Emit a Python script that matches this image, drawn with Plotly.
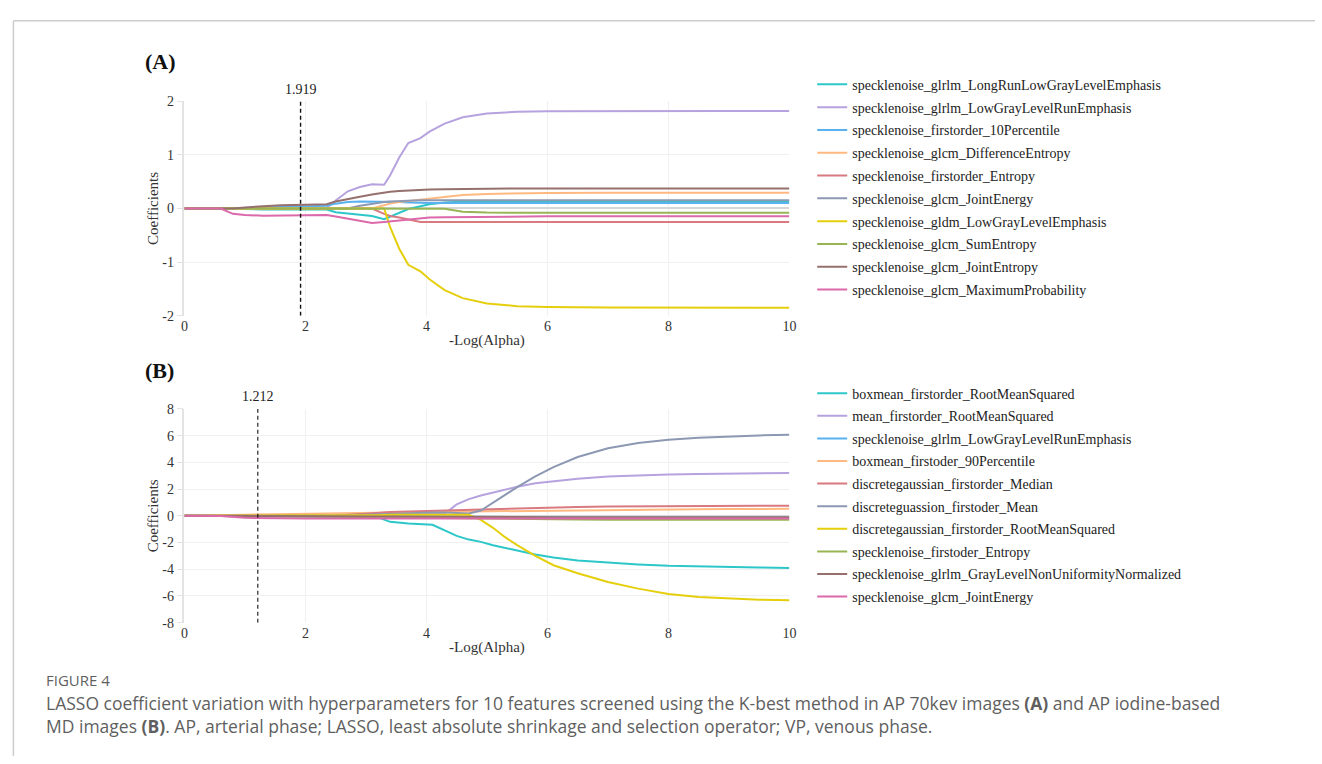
import plotly.graph_objects as go

W, H = 1322, 764

# ---------------- Panel A data ----------------
xa = [0, 0.6, 0.8, 1.0, 1.3, 1.6, 2.0, 2.35, 2.5, 2.7, 2.9, 3.1, 3.3, 3.4, 3.55,
      3.7, 3.9, 4.05, 4.3, 4.6, 5.0, 5.5, 6.0, 7.0, 8.0, 9.0, 10.0]

names_a = [
    "specklenoise_glrlm_LongRunLowGrayLevelEmphasis",
    "specklenoise_glrlm_LowGrayLevelRunEmphasis",
    "specklenoise_firstorder_10Percentile",
    "specklenoise_glcm_DifferenceEntropy",
    "specklenoise_firstorder_Entropy",
    "specklenoise_glcm_JointEnergy",
    "specklenoise_gldm_LowGrayLevelEmphasis",
    "specklenoise_glcm_SumEntropy",
    "specklenoise_glcm_JointEntropy",
    "specklenoise_glcm_MaximumProbability",
]

a_long_run_low = [0, 0, 0, -0.01, -0.02, -0.02, -0.02, -0.02, -0.07, -0.09, -0.11, -0.14, -0.2, -0.15, -0.07,
                  -0.01, 0.04, 0.08, 0.11, 0.13, 0.14, 0.14, 0.14, 0.14, 0.14, 0.14, 0.14]
a_low_gray_run = [0, 0, 0, 0, 0, 0, 0, 0.01, 0.15, 0.32, 0.40, 0.45, 0.44, 0.62, 0.95,
                  1.22, 1.31, 1.43, 1.58, 1.70, 1.77, 1.80, 1.81, 1.815, 1.815, 1.815, 1.815]
a_10pct = [0, 0, 0, 0.01, 0.02, 0.03, 0.04, 0.05, 0.09, 0.12, 0.13, 0.13, 0.13, 0.13, 0.12,
           0.11, 0.10, 0.10, 0.10, 0.10, 0.10, 0.10, 0.10, 0.10, 0.10, 0.10, 0.10]
a_diff_entropy = [0, 0, 0, 0, 0, 0, 0, 0, 0, 0, 0, 0, 0.06, 0.09, 0.12,
                  0.14, 0.17, 0.19, 0.22, 0.25, 0.27, 0.285, 0.29, 0.295, 0.295, 0.295, 0.295]
a_entropy = [0, 0, 0, 0, 0, 0, 0, 0, 0, 0, 0, 0, -0.10, -0.14, -0.17,
             -0.20, -0.25, -0.25, -0.25, -0.25, -0.25, -0.25, -0.25, -0.25, -0.25, -0.25, -0.25]
a_joint_energy = [0, 0, 0, 0, 0, 0, 0, 0, 0, 0, 0.05, 0.09, 0.12, 0.13, 0.14,
                  0.15, 0.155, 0.155, 0.155, 0.155, 0.155, 0.155, 0.155, 0.155, 0.155, 0.155, 0.155]
a_low_gray_emph = [0, 0, 0, 0, 0, 0, 0, 0, 0, 0, 0, 0, 0, -0.35, -0.75,
                   -1.05, -1.17, -1.32, -1.52, -1.67, -1.77, -1.82, -1.835, -1.845, -1.85, -1.85, -1.85]
a_sum_entropy = [0, 0, 0, 0, 0, 0, 0, 0, 0, 0, 0, 0, 0, 0, 0,
                 0, 0, 0, -0.005, -0.06, -0.075, -0.08, -0.08, -0.08, -0.08, -0.08, -0.08]
a_joint_entropy = [0, 0, 0, 0.02, 0.04, 0.06, 0.07, 0.08, 0.13, 0.18, 0.22, 0.26, 0.30, 0.31, 0.325,
                   0.335, 0.35, 0.355, 0.36, 0.365, 0.37, 0.372, 0.374, 0.374, 0.374, 0.374, 0.374]
a_max_prob = [0, 0, -0.10, -0.12, -0.135, -0.13, -0.125, -0.12, -0.15, -0.19, -0.23, -0.27, -0.25, -0.24, -0.22,
              -0.20, -0.18, -0.17, -0.165, -0.16, -0.155, -0.15, -0.145, -0.143, -0.143, -0.143, -0.143]

series_a = [a_long_run_low, a_low_gray_run, a_10pct, a_diff_entropy, a_entropy,
            a_joint_energy, a_low_gray_emph, a_sum_entropy, a_joint_entropy, a_max_prob]

# ---------------- Panel B data ----------------
xb = [0, 0.6, 1.0, 1.5, 2.0, 2.5, 3.0, 3.2, 3.4, 3.7, 4.1, 4.3, 4.5, 4.7, 4.9, 5.1,
      5.3, 5.5, 5.8, 6.1, 6.5, 7.0, 7.5, 8.0, 8.5, 9.0, 9.5, 10.0]

names_b = [
    "boxmean_firstorder_RootMeanSquared",
    "mean_firstorder_RootMeanSquared",
    "specklenoise_glrlm_LowGrayLevelRunEmphasis",
    "boxmean_firstoder_90Percentile",
    "discretegaussian_firstorder_Median",
    "discreteguassion_firstoder_Mean",
    "discretegaussian_firstorder_RootMeanSquared",
    "specklenoise_firstoder_Entropy",
    "specklenoise_glrlm_GrayLevelNonUniformityNormalized",
    "specklenoise_glcm_JointEnergy",
]

b_boxmean_rms = [0, 0, -0.02, -0.03, -0.04, -0.05, -0.08, -0.12, -0.45, -0.58, -0.67, -1.1, -1.5, -1.78, -1.95, -2.2,
                 -2.38, -2.6, -2.9, -3.12, -3.35, -3.52, -3.64, -3.74, -3.8, -3.84, -3.87, -3.9]
b_mean_rms = [0, 0, 0, 0, 0, 0, 0.02, 0.04, 0.06, 0.08, 0.10, 0.15, 0.85, 1.25, 1.52, 1.75,
              1.98, 2.17, 2.43, 2.60, 2.78, 2.94, 3.03, 3.09, 3.13, 3.16, 3.19, 3.21]
b_low_gray_run = [0, 0, -0.02, -0.03, -0.04, -0.05, -0.05, -0.06, -0.06, -0.07, -0.08, -0.08, -0.09, -0.09, -0.1, -0.1,
                  -0.1, -0.11, -0.11, -0.11, -0.12, -0.12, -0.12, -0.12, -0.12, -0.12, -0.12, -0.12]
b_boxmean_p90 = [0, 0.02, 0.08, 0.12, 0.14, 0.16, 0.19, 0.21, 0.23, 0.26, 0.29, 0.30, 0.31, 0.32, 0.33, 0.34,
                 0.36, 0.38, 0.40, 0.42, 0.44, 0.46, 0.48, 0.49, 0.50, 0.51, 0.52, 0.52]
b_dg_median = [0, 0, 0, 0, 0, 0.03, 0.15, 0.22, 0.28, 0.33, 0.38, 0.40, 0.43, 0.46, 0.49, 0.52,
               0.54, 0.57, 0.60, 0.63, 0.66, 0.69, 0.71, 0.72, 0.73, 0.74, 0.745, 0.75]
b_dg_mean = [0, 0, 0, 0, 0, 0.02, 0.08, 0.12, 0.16, 0.20, 0.25, 0.24, 0.20, 0.17, 0.40, 0.98,
             1.55, 2.15, 2.95, 3.65, 4.40, 5.05, 5.45, 5.70, 5.85, 5.95, 6.02, 6.07]
b_dg_rms = [0, 0, 0, 0, 0, 0, 0.03, 0.05, 0.07, 0.08, 0.10, 0.10, 0.10, 0.08, -0.30, -0.90,
            -1.60, -2.20, -3.00, -3.70, -4.30, -4.95, -5.45, -5.85, -6.08, -6.20, -6.28, -6.33]
b_speckle_entropy = [0, 0, -0.02, -0.03, -0.05, -0.07, -0.10, -0.11, -0.12, -0.14, -0.17, -0.18, -0.2, -0.21, -0.22, -0.23,
                     -0.24, -0.25, -0.26, -0.27, -0.28, -0.29, -0.29, -0.3, -0.3, -0.3, -0.3, -0.3]
b_glnun = [0, 0, -0.01, -0.02, -0.03, -0.04, -0.05, -0.05, -0.06, -0.07, -0.08, -0.08, -0.09, -0.09, -0.1, -0.1,
           -0.1, -0.1, -0.1, -0.1, -0.1, -0.1, -0.1, -0.1, -0.1, -0.1, -0.1, -0.1]
b_joint_energy = [0, -0.02, -0.15, -0.2, -0.2, -0.21, -0.21, -0.22, -0.22, -0.22, -0.22, -0.22, -0.22, -0.22, -0.22, -0.22,
                  -0.21, -0.21, -0.21, -0.2, -0.2, -0.2, -0.2, -0.2, -0.2, -0.2, -0.2, -0.2]

series_b = [b_boxmean_rms, b_mean_rms, b_low_gray_run, b_boxmean_p90, b_dg_median,
            b_dg_mean, b_dg_rms, b_speckle_entropy, b_glnun, b_joint_energy]

colors = ["#2ec7c9", "#b6a2de", "#5ab1ef", "#ffb980", "#d87a80",
          "#8d98b3", "#e5cf0d", "#97b552", "#95706d", "#dc69aa"]

ticks_x = [0, 2, 4, 6, 8, 10]
ticks_ya = [-2, -1, 0, 1, 2]
ticks_yb = [-8, -6, -4, -2, 0, 2, 4, 6, 8]

alpha_a = 1.919
alpha_b = 1.212

SERIF = "Liberation Serif, Times New Roman, serif"
SANS = "Open Sans, Noto Sans, sans-serif"

fig = go.Figure()

for i, (nm, ys) in enumerate(zip(names_a, series_a)):
    fig.add_trace(go.Scatter(x=xa, y=ys, name=nm, mode="lines",
                             line=dict(color=colors[i], width=2),
                             legendgroup="a%d" % i, legend="legend",
                             xaxis="x", yaxis="y"))
for i, (nm, ys) in enumerate(zip(names_b, series_b)):
    fig.add_trace(go.Scatter(x=xb, y=ys, name=nm, mode="lines",
                             line=dict(color=colors[i], width=2),
                             legendgroup="b%d" % i, legend="legend2",
                             xaxis="x2", yaxis="y2"))

# dashed selected-alpha lines
fig.add_trace(go.Scatter(x=[alpha_a, alpha_a], y=[-2, 2], mode="lines",
                         line=dict(color="#111", width=1.4, dash="4px,3px"),
                         showlegend=False, hoverinfo="skip", xaxis="x", yaxis="y"))
fig.add_trace(go.Scatter(x=[alpha_b, alpha_b], y=[-8, 8], mode="lines",
                         line=dict(color="#111", width=1.1, dash="4px,3px"),
                         showlegend=False, hoverinfo="skip", xaxis="x2", yaxis="y2"))

def py(px):
    return 1 - px / H

def pxx(px):
    return px / W

xdom = [pxx(182), pxx(792)]
axis_font = dict(family=SERIF, size=14, color="#333")
title_font = dict(family=SERIF, size=15, color="#333")

common_x = dict(range=[0, 10], tickvals=ticks_x, ticktext=[str(t) for t in ticks_x],
                showgrid=True, gridcolor="#f0f0f0", gridwidth=1, zeroline=False,
                showline=False, ticks="", tickfont=axis_font, domain=xdom,
                title=dict(text="-Log(Alpha)", font=title_font, standoff=1))
common_y = dict(showgrid=True, gridcolor="#f0f0f0", gridwidth=1, zeroline=True,
                zerolinecolor="#d6d6d6", zerolinewidth=1.5, showline=True,
                linecolor="#e3e3e3", linewidth=1.5, ticks="outside", ticklen=6,
                tickcolor="#e3e3e3", tickfont=axis_font,
                title=dict(text="Coefficients", font=title_font, standoff=0))

fig.update_layout(
    width=W, height=H, autosize=False,
    margin=dict(l=0, r=0, t=0, b=0),
    paper_bgcolor="white", plot_bgcolor="white",
    showlegend=True,
    xaxis=dict(anchor="y", **common_x),
    yaxis=dict(anchor="x", domain=[py(315), py(96)], range=[-2, 2], tickvals=ticks_ya,
               ticktext=[str(t) for t in ticks_ya], **common_y),
    xaxis2=dict(anchor="y2", **common_x),
    yaxis2=dict(anchor="x2", domain=[py(628), py(410)], range=[-8, 8], tickvals=ticks_yb,
                ticktext=[str(t) for t in ticks_yb], **common_y),
    legend=dict(x=pxx(815), y=py(63), xanchor="left", yanchor="top",
                font=dict(family=SERIF, size=14, color="#222"), tracegroupgap=1.6,
                bgcolor="rgba(0,0,0,0)", itemclick=False),
    legend2=dict(x=pxx(815), y=py(378), xanchor="left", yanchor="top",
                 font=dict(family=SERIF, size=14, color="#222"), tracegroupgap=1.4,
                 bgcolor="rgba(0,0,0,0)", itemclick=False),
)

annotations = [
    dict(text="<b>(A)</b>", x=pxx(140), y=py(56), xanchor="left", yanchor="middle",
         font=dict(family=SERIF, size=22, color="#111")),
    dict(text="<b>(B)</b>", x=pxx(140), y=py(371), xanchor="left", yanchor="middle",
         font=dict(family=SERIF, size=22, color="#111")),
    dict(text="FIGURE 4", x=pxx(40), y=py(686), xanchor="left", yanchor="middle",
         font=dict(family=SANS, size=15, color="#5f5f5f")),
    dict(text="LASSO coefficient variation with hyperparameters for 10 features screened using the K-best method in AP 70kev images <b>(A)</b> and AP iodine-based",
         x=pxx(40), y=py(710), xanchor="left", yanchor="middle",
         font=dict(family=SANS, size=17.5, color="#5f5f5f")),
    dict(text="MD images <b>(B)</b>. AP, arterial phase; LASSO, least absolute shrinkage and selection operator; VP, venous phase.",
         x=pxx(40), y=py(733), xanchor="left", yanchor="middle",
         font=dict(family=SANS, size=17.5, color="#5f5f5f")),
]
for a in annotations:
    a.update(xref="paper", yref="paper", showarrow=False)
fig.update_layout(annotations=annotations)

# selected-alpha value labels, placed in data coordinates along x
fig.add_annotation(text="%.3f" % alpha_a, x=alpha_a, xref="x", y=py(84), yref="paper",
                   showarrow=False, xanchor="center", yanchor="middle",
                   font=dict(family=SERIF, size=14, color="#222"))
fig.add_annotation(text="%.3f" % alpha_b, x=alpha_b, xref="x2", y=py(397), yref="paper",
                   showarrow=False, xanchor="center", yanchor="middle",
                   font=dict(family=SERIF, size=14, color="#222"))

# outer frame lines
fig.add_shape(type="line", xref="paper", yref="paper", x0=pxx(9.5), x1=1, y0=py(14), y1=py(14),
              line=dict(color="#cccccc", width=1.5))
fig.add_shape(type="line", xref="paper", yref="paper", x0=pxx(9.5), x1=pxx(9.5), y0=0, y1=py(14),
              line=dict(color="#cccccc", width=1.5))

fig.write_html("out.html")
